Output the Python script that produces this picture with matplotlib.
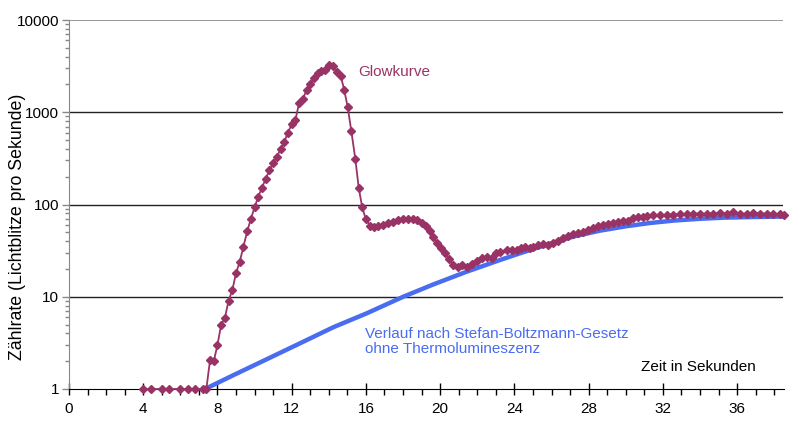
import numpy as np
import matplotlib
matplotlib.use("Agg")
import matplotlib.pyplot as plt
from matplotlib.ticker import FixedLocator, NullFormatter, LogLocator

plt.rcParams['font.family'] = ['Liberation Sans', 'DejaVu Sans']

# Glowkurve
glow_t = [4.0, 4.4, 5.0, 5.4, 6.0, 6.4, 6.8, 7.2, 7.4,
          7.6, 7.8, 8.0, 8.2, 8.4, 8.6, 8.8, 9.0, 9.2, 9.4, 9.6, 9.8, 10.0,
          10.2, 10.4, 10.6, 10.8, 11.0, 11.2, 11.4, 11.6, 11.8, 12.0, 12.2,
          12.4, 12.6, 12.8, 13.0, 13.2, 13.4, 13.6, 13.8, 14.0, 14.2, 14.45,
          14.65, 14.83, 15.02, 15.21, 15.43, 15.61, 15.8, 16.0, 16.22, 16.42,
          16.66, 16.93, 17.2, 17.47, 17.74, 18.01, 18.28, 18.55, 18.77, 19.0,
          19.23, 19.45, 19.63, 19.81, 20.04, 20.26, 20.47, 20.71, 20.94, 21.19,
          21.43, 21.7, 21.97, 22.24, 22.51, 22.77, 22.99, 23.22, 23.58, 23.85,
          24.12, 24.35, 24.57, 24.84, 25.02, 25.29, 25.56, 25.83, 26.1, 26.37,
          26.64, 26.91, 27.18, 27.44, 27.71, 27.98, 28.25, 28.52, 28.79, 29.06,
          29.33, 29.6, 29.87, 30.14, 30.41, 30.68, 30.95, 31.12, 31.48, 31.84,
          32.2, 32.56, 32.92, 33.28, 33.64, 34.0, 34.36, 34.71, 35.07, 35.43,
          35.79, 36.15, 36.51, 36.87, 37.23, 37.59, 37.94, 38.3, 38.5]
glow_n = [1, 1, 1, 1, 1, 1, 1, 1, 1,
          2.06, 2.0, 3.0, 5.0, 5.9, 9.1, 11.8, 18, 24, 35, 51, 70, 93,
          122, 152, 191, 235, 282, 329, 397, 479, 602, 745, 828,
          1260, 1390, 1740, 2040, 2340, 2650, 2830, 2890, 3250, 3150, 2760,
          2450, 1740, 1130, 630, 310, 152, 93, 69, 59, 57,
          58.5, 60, 62.5, 65, 68, 69, 70, 70, 68, 63.6,
          58.5, 51.5, 44.7, 38.5, 33.5, 29.6, 25.4, 22.1, 20.9, 22.1,
          21.2, 22.6, 24.6, 26.1, 26.8, 26.1, 29.6, 30.8, 32.1, 32.5,
          32.0, 33.5, 34.9, 33.5, 34.5, 36.4, 37.3, 36.4, 38.5, 40.5,
          43, 45.6, 47.9, 49.5, 50.7, 52.9, 55.2, 58, 60, 61.5,
          63.5, 65.2, 66.7, 66.7, 70.8, 72.6, 73.8, 75.5, 76.1, 76.6,
          77.2, 77.2, 78.5, 78.5, 79.8, 79.8, 79.1, 79.8, 81.2, 79.8,
          83.3, 79.8, 79.8, 81.2, 79.8, 79.8, 79.8, 78.5, 77.2]

# Verlauf nach Stefan-Boltzmann
sb_t = [7.33, 8.85, 10.65, 12.45, 14.24, 16.04, 18.01, 19.63, 21.43,
        23.22, 24.3, 25.9, 27.2, 28.6, 30.0, 31.3, 32.6, 34.0, 35.3,
        36.7, 38.5]
sb_n = [1.0, 1.41, 2.1, 3.13, 4.67, 6.61, 10.0, 13.6, 18.7,
        25.0, 29.6, 37.5, 45.0, 52.0, 58.0, 63.0, 67.0, 70.0, 72.0,
        73.0, 74.0]

x_major = [0, 4, 8, 12, 16, 20, 24, 28, 32, 36]
y_major = [1, 10, 100, 1000, 10000]
y_labels = ['1', '10', '100', '1000', '10000']

glow_col = '#993366'
sb_col = '#4a6cf0'

fig = plt.figure(figsize=(8, 4.25), dpi=100)
ax = fig.add_axes([69 / 800, 1 - 389 / 425, (783.5 - 69) / 800, (389 - 20) / 425])

ax.set_yscale('log')
ax.set_xlim(0, 38.5)
ax.set_ylim(1, 10000)

# horizontal gridlines
for v in [10, 100, 1000]:
    ax.axhline(v, color='#222222', lw=1.0, zorder=1)
ax.axhline(10000, color='#888888', lw=1.2, zorder=1)

ax.plot(sb_t, sb_n, color=sb_col, lw=3.2, zorder=2, solid_capstyle='butt',
        solid_joinstyle='round')
ax.plot(glow_t, glow_n, color=glow_col, lw=1.3, marker='D', ms=3.6,
        mec=glow_col, mfc=glow_col, zorder=3, clip_on=False)

ax.spines['right'].set_visible(False)
ax.spines['top'].set_visible(False)
ax.spines['left'].set_color('#888888')
ax.spines['bottom'].set_color('black')

ax.xaxis.set_major_locator(FixedLocator(x_major))
ax.xaxis.set_minor_locator(FixedLocator(np.arange(0, 39, 1)))
ax.set_xticklabels([str(v) for v in x_major])
ax.tick_params(axis='x', which='major', direction='inout', length=9, width=1, labelsize=11, pad=5)
ax.tick_params(axis='x', which='minor', direction='out', length=4, width=1)

ax.yaxis.set_major_locator(FixedLocator(y_major))
ax.set_yticklabels(y_labels)
ax.yaxis.set_minor_locator(LogLocator(base=10, subs=np.arange(2, 10)))
ax.yaxis.set_minor_formatter(NullFormatter())
ax.tick_params(axis='y', which='major', direction='out', length=5, width=1, colors='#888888',
               labelcolor='black', labelsize=11, pad=2)
ax.tick_params(axis='y', which='minor', direction='out', length=3, width=1, colors='#888888')

ax.text(15.57, 2730, 'Glowkurve', color=glow_col, fontsize=11, va='center', ha='left')
ax.text(15.95, 3.3, 'Verlauf nach Stefan-Boltzmann-Gesetz\nohne Thermolumineszenz',
        color=sb_col, fontsize=11, va='center', ha='left', linespacing=1.1)
ax.text(30.8, 1.73, 'Zeit in Sekunden', color='black', fontsize=11, va='center', ha='left')

fig.text(18 / 800, 1 - 227 / 425, 'Zählrate (Lichtblitze pro Sekunde)', rotation=90,
         fontsize=12.8, va='center', ha='center')

fig.savefig('out.png', dpi=100)
